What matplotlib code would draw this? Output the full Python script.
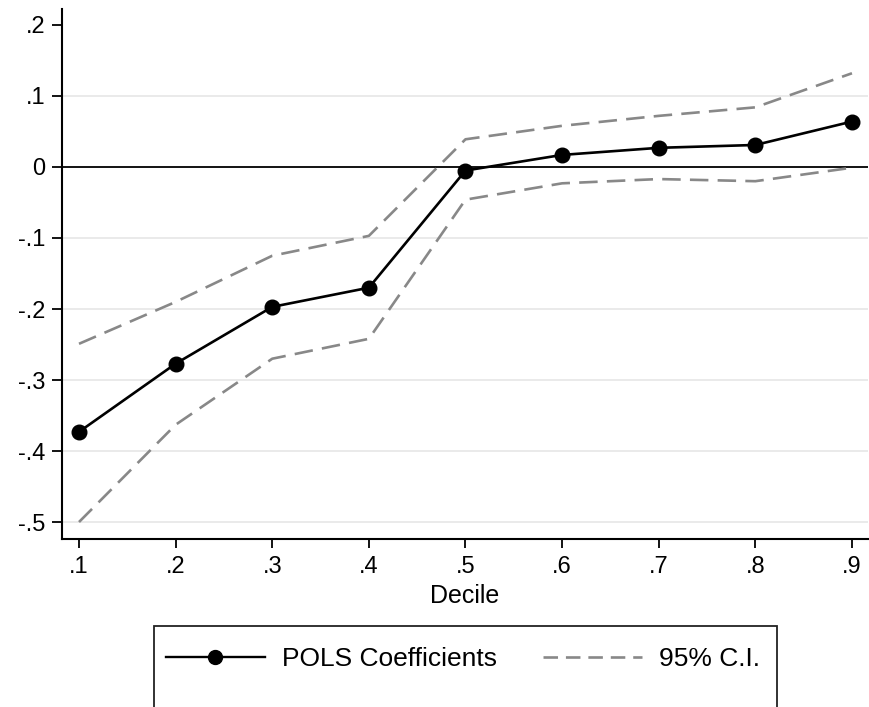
import numpy as np
import matplotlib
matplotlib.use('Agg')
import matplotlib.pyplot as plt
from matplotlib.lines import Line2D
from matplotlib.patches import Rectangle

plt.rcParams['font.family'] = ['Liberation Sans', 'DejaVu Sans']

# ----------------------------------------------------------------
# Data
# ----------------------------------------------------------------
decile = [0.1, 0.2, 0.3, 0.4, 0.5, 0.6, 0.7, 0.8, 0.9]
coef   = [-0.373, -0.277, -0.197, -0.170, -0.005, 0.017, 0.027, 0.031, 0.064]
ci_hi  = [-0.249, -0.190, -0.125, -0.097, 0.039, 0.058, 0.072, 0.084, 0.132]
ci_lo  = [-0.500, -0.363, -0.270, -0.242, -0.046, -0.023, -0.017, -0.020, -0.001]

xticks = [0.1, 0.2, 0.3, 0.4, 0.5, 0.6, 0.7, 0.8, 0.9]
xlabels = ['.1', '.2', '.3', '.4', '.5', '.6', '.7', '.8', '.9']
yticks = [-0.5, -0.4, -0.3, -0.2, -0.1, 0.0, 0.1, 0.2]
ylabels = ['-.5', '-.4', '-.3', '-.2', '-.1', '0', '.1', '.2']
grid_y = [-0.5, -0.4, -0.3, -0.2, -0.1, 0.1]

ci_col = '#888888'

fig = plt.figure(figsize=(8.69, 7.07), dpi=100)
ax = fig.add_axes([62/869, 1 - 539/707, 806/869, 530/707])

# gridlines and zero line
for yv in grid_y:
    ax.axhline(yv, color='#e6e6e6', lw=1.2, zorder=0)
ax.axhline(0, color='black', lw=1.3, zorder=1)

ax.plot(decile, ci_hi, color=ci_col, lw=1.9, dashes=(7, 3.5), zorder=2)
ax.plot(decile, ci_lo, color=ci_col, lw=1.9, dashes=(7, 3.5), zorder=2)
ax.plot(decile, coef, color='black', lw=1.9, marker='o', ms=10.5, zorder=3)

ax.set_xlim(0.0824, 0.9166)
ax.set_ylim(-0.5239, 0.2225)
ax.set_xticks(xticks)
ax.set_xticklabels(xlabels)
ax.set_yticks(yticks)
ax.set_yticklabels(ylabels)
ax.tick_params(axis='both', labelsize=17, width=1.3, colors='black')
ax.tick_params(axis='y', length=7, pad=5)
ax.tick_params(axis='x', length=6.5, pad=6)
ax.set_xlabel('Decile', fontsize=18, labelpad=4)

for s in ['top', 'right']:
    ax.spines[s].set_visible(False)
for s in ['left', 'bottom']:
    ax.spines[s].set_linewidth(1.5)

# legend box (runs off the bottom edge like the original)
box = Rectangle((154/869, -0.05), (777 - 154)/869, 0.05 + (1 - 626/707),
                transform=fig.transFigure, fill=False, edgecolor='#222222',
                lw=1.3, clip_on=False)
fig.add_artist(box)

h1 = Line2D([], [], color='black', lw=1.7, marker='o', ms=10)
h2 = Line2D([], [], color=ci_col, lw=1.9, dashes=(5.5, 3))
fig.legend([h1, h2], ['POLS Coefficients', '95% C.I.'],
           loc='center left', bbox_to_anchor=(166/869, 1 - 659/707),
           ncol=2, frameon=False, fontsize=19, borderpad=0, borderaxespad=0,
           handlelength=3.75, handletextpad=0.65, columnspacing=1.75)

plt.savefig('out.png', dpi=100)
plt.close()
